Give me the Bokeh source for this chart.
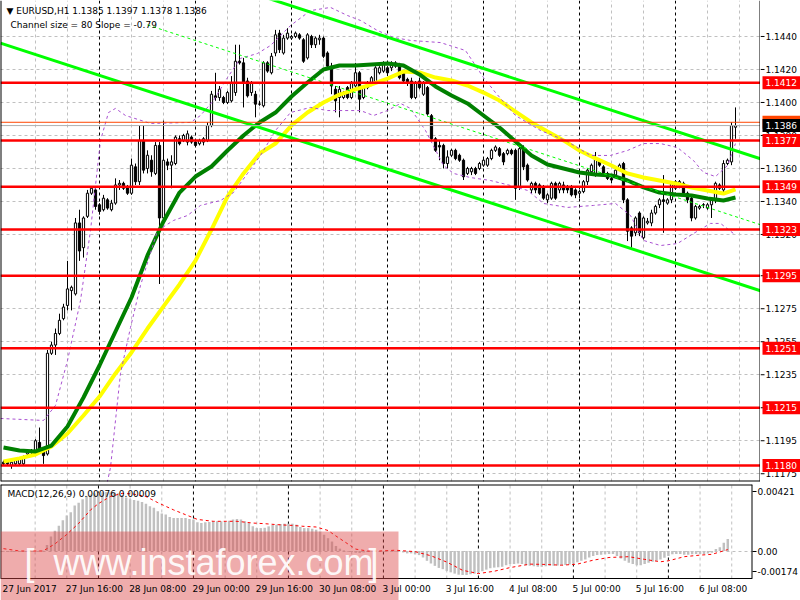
import numpy as np
import pandas as pd
from bokeh.plotting import figure
from bokeh.layouts import column, row
from bokeh.models import (Range1d, FixedTicker, Span, Label, LabelSet, BoxAnnotation,
                          ColumnDataSource)
from bokeh.core.properties import value
from bokeh.embed import file_html
from bokeh.resources import INLINE

# ---------------- data ----------------
symbol = "EURUSD,H1"
first_bar = "2017-06-27 00:00"

open_pips = [
11182, 11182, 11180, 11181, 11181, 11181, 11187, 11189, 11188, 11194,
11189, 11187, 11248, 11253, 11260, 11269, 11277, 11286, 11284, 11327,
11312, 11331, 11345, 11347, 11338, 11335, 11341, 11335, 11339, 11350,
11351, 11349, 11345, 11361, 11352, 11377, 11360, 11365, 11357, 11374,
11330, 11364, 11362, 11363, 11378, 11377, 11376, 11379, 11376, 11375,
11376, 11377, 11386, 11404, 11403, 11403, 11400, 11401, 11406, 11425,
11424, 11413, 11406, 11405, 11399, 11398, 11424, 11418, 11430, 11442,
11430, 11439, 11439, 11440, 11441, 11438, 11427, 11440, 11435, 11438,
11439, 11430, 11422, 11408, 11403, 11403, 11409, 11403, 11410, 11418,
11403, 11409, 11412, 11412, 11418, 11419, 11421, 11421, 11422, 11422,
11418, 11414, 11413, 11403, 11413, 11405, 11409, 11392, 11378, 11374,
11374, 11363, 11368, 11371, 11368, 11365, 11357, 11358, 11360, 11360,
11362, 11362, 11366, 11371, 11372, 11369, 11369, 11371, 11371, 11349,
11372, 11362, 11347, 11351, 11350, 11349, 11341, 11342, 11351, 11347,
11350, 11349, 11349, 11347, 11345, 11346, 11352, 11358, 11356, 11365,
11361, 11357, 11354, 11356, 11360, 11363, 11341, 11324, 11321, 11333,
11318, 11327, 11327, 11333, 11338, 11341, 11339, 11341, 11348, 11349,
11351, 11345, 11342, 11330, 11336, 11338, 11336, 11338, 11341, 11350,
11347, 11363, 11364, 11385]

high_pips = [
11183, 11183, 11183, 11184, 11185, 11186, 11190, 11190, 11196, 11203,
11190, 11250, 11255, 11263, 11272, 11278, 11304, 11289, 11330, 11335,
11331, 11347, 11349, 11348, 11339, 11344, 11342, 11341, 11354, 11353,
11352, 11350, 11366, 11363, 11386, 11386, 11371, 11368, 11376, 11376,
11389, 11366, 11368, 11380, 11380, 11381, 11383, 11380, 11377, 11378,
11379, 11388, 11407, 11418, 11410, 11404, 11407, 11416, 11435, 11435,
11427, 11415, 11413, 11407, 11401, 11425, 11425, 11430, 11444, 11444,
11441, 11445, 11441, 11443, 11442, 11439, 11442, 11441, 11440, 11441,
11440, 11431, 11424, 11410, 11410, 11407, 11410, 11413, 11424, 11419,
11410, 11413, 11416, 11422, 11422, 11425, 11422, 11425, 11425, 11424,
11419, 11415, 11415, 11413, 11415, 11413, 11410, 11393, 11379, 11377,
11375, 11371, 11372, 11372, 11369, 11366, 11361, 11361, 11361, 11364,
11366, 11367, 11372, 11374, 11373, 11370, 11372, 11372, 11372, 11373,
11374, 11363, 11352, 11352, 11351, 11350, 11345, 11352, 11352, 11352,
11352, 11350, 11350, 11348, 11347, 11353, 11360, 11363, 11370, 11366,
11362, 11358, 11355, 11360, 11363, 11364, 11342, 11325, 11331, 11334,
11331, 11330, 11335, 11338, 11342, 11356, 11342, 11352, 11353, 11353,
11352, 11346, 11343, 11338, 11338, 11339, 11339, 11342, 11352, 11351,
11365, 11366, 11388, 11397]

low_pips = [
11180, 11180, 11178, 11180, 11180, 11180, 11186, 11186, 11187, 11188,
11181, 11186, 11247, 11247, 11259, 11268, 11274, 11274, 11283, 11304,
11306, 11330, 11344, 11335, 11332, 11334, 11335, 11334, 11338, 11347,
11347, 11344, 11344, 11350, 11350, 11357, 11357, 11355, 11356, 11290,
11327, 11359, 11348, 11362, 11374, 11376, 11374, 11375, 11373, 11374,
11374, 11376, 11385, 11401, 11401, 11399, 11399, 11400, 11404, 11423,
11397, 11403, 11404, 11391, 11398, 11397, 11418, 11417, 11428, 11430,
11429, 11438, 11438, 11439, 11438, 11424, 11426, 11433, 11433, 11435,
11427, 11421, 11405, 11394, 11391, 11402, 11402, 11402, 11409, 11394,
11402, 11408, 11410, 11411, 11417, 11418, 11416, 11419, 11421, 11414,
11412, 11410, 11402, 11402, 11408, 11404, 11392, 11377, 11370, 11365,
11360, 11360, 11367, 11365, 11364, 11353, 11356, 11356, 11356, 11359,
11361, 11361, 11365, 11370, 11367, 11362, 11368, 11368, 11341, 11347,
11359, 11352, 11345, 11345, 11344, 11341, 11339, 11341, 11341, 11345,
11345, 11345, 11343, 11342, 11342, 11345, 11350, 11356, 11355, 11361,
11356, 11353, 11351, 11355, 11359, 11339, 11316, 11312, 11319, 11319,
11317, 11326, 11325, 11332, 11336, 11321, 11338, 11339, 11347, 11348,
11344, 11339, 11328, 11329, 11335, 11336, 11335, 11330, 11339, 11347,
11345, 11362, 11362, 11378]

close_pips = [
11181, 11181, 11182, 11183, 11184, 11185, 11189, 11188, 11195, 11189,
11186, 11248, 11253, 11260, 11268, 11276, 11287, 11288, 11327, 11310,
11330, 11345, 11348, 11337, 11334, 11342, 11336, 11339, 11350, 11351,
11348, 11345, 11362, 11352, 11377, 11359, 11368, 11358, 11374, 11330,
11365, 11362, 11364, 11379, 11375, 11380, 11381, 11376, 11374, 11377,
11378, 11386, 11405, 11403, 11408, 11400, 11406, 11412, 11425, 11424,
11412, 11404, 11412, 11399, 11399, 11424, 11419, 11428, 11441, 11432,
11439, 11442, 11440, 11442, 11439, 11425, 11441, 11435, 11439, 11439,
11428, 11422, 11410, 11401, 11408, 11406, 11403, 11412, 11418, 11402,
11409, 11412, 11415, 11421, 11421, 11424, 11418, 11424, 11424, 11415,
11413, 11412, 11403, 11412, 11409, 11412, 11393, 11378, 11371, 11373,
11363, 11367, 11371, 11366, 11365, 11355, 11360, 11360, 11357, 11363,
11365, 11366, 11371, 11373, 11368, 11364, 11371, 11369, 11348, 11372,
11361, 11353, 11351, 11347, 11345, 11342, 11344, 11351, 11342, 11351,
11347, 11347, 11344, 11344, 11346, 11352, 11359, 11362, 11366, 11362,
11357, 11354, 11353, 11359, 11362, 11341, 11322, 11319, 11330, 11321,
11330, 11328, 11333, 11337, 11341, 11340, 11341, 11351, 11352, 11352,
11345, 11341, 11330, 11337, 11337, 11338, 11338, 11341, 11351, 11348,
11363, 11365, 11386, 11386]

# moving averages (bar index, price in pips)
ma_idx = list(range(0, 181, 4)) + [183]
ma_fast_pips = [11190.9, 11189.1, 11188.5, 11192.1, 11203.6, 11221.2, 11240.6, 11261.2, 11281.8, 11307.3,
                11327.9, 11345.4, 11355.1, 11361.2, 11370.9, 11380.0, 11387.9, 11393.9, 11403.6, 11412.1,
                11420.0, 11422.4, 11422.4, 11423.0, 11423.6, 11422.4, 11417.0, 11409.7, 11404.2, 11399.4,
                11392.1, 11384.8, 11376.4, 11367.9, 11362.4, 11360.0, 11357.6, 11356.4, 11355.8, 11352.7,
                11348.5, 11345.4, 11344.2, 11343.6, 11341.8, 11340.6, 11342.4]
ma_slow_pips = [11182.4, 11184.3, 11186.7, 11191.5, 11199.4, 11210.3, 11221.8, 11235.8, 11248.5, 11263.0,
                11276.4, 11289.7, 11304.2, 11323.0, 11343.0, 11357.0, 11369.1, 11375.1, 11386.1, 11393.9,
                11400.0, 11404.8, 11407.9, 11410.9, 11414.5, 11418.8, 11418.2, 11415.1, 11413.3, 11410.3,
                11406.0, 11401.2, 11394.5, 11387.9, 11382.4, 11377.0, 11370.9, 11366.1, 11361.8, 11357.0,
                11354.5, 11352.7, 11350.9, 11348.5, 11346.7, 11344.8, 11347.3]

# bands (dotted violet)
band_up_idx = [-0.75, 10, 13, 16, 19.25, 21.75, 24.25, 26.25, 28, 30.5,
               36.75, 46.75, 49.25, 52.5, 56, 59.25, 63.5, 66.75, 71.75, 76.75,
               81.75, 86, 89.25, 93.5, 97.5, 101.75, 109.25, 115.5, 120, 123,
               128, 134.25, 140.5, 146.75, 151.75, 156, 160, 164.25, 168.5, 172.5,
               175, 178, 181, 183]
band_up_pips = [11208.5, 11207.3, 11216.4, 11243.6, 11280.0, 11322.4, 11377.0, 11393.9, 11396.4, 11392.1,
                11387.3, 11387.9, 11392.1, 11401.2, 11415.1, 11426.7, 11429.7, 11434.5, 11446.6, 11455.7,
                11457.6, 11452.7, 11449.7, 11443.6, 11439.4, 11437.6, 11436.3, 11431.5, 11415.1, 11406.0,
                11392.1, 11383.0, 11377.0, 11367.9, 11367.9, 11370.9, 11375.1, 11375.1, 11372.7, 11364.8,
                11357.6, 11355.1, 11361.8, 11375.1]
band_lo_idx = [0, 23, 25.5, 26.75, 29.25, 31.75, 34.25, 38.5, 42.5, 46,
               49.25, 54.25, 57.5, 61, 64.25, 68, 71.75, 76.75, 81, 89.25,
               92.5, 96, 99.25, 101.75, 105.5, 110, 112.5, 116.75, 121.75, 126.75,
               131, 135, 141, 147.5, 153, 156.75, 160, 164.25, 168.5, 172.5,
               176.75, 179.25, 182.5]
band_lo_pips = [11158.8, 11158.8, 11164.9, 11178.8, 11235.8, 11263.6, 11289.1, 11322.4, 11328.5, 11331.5,
                11337.6, 11340.6, 11345.4, 11357.0, 11367.9, 11383.0, 11393.9, 11397.0, 11395.1, 11395.1,
                11392.1, 11395.1, 11399.4, 11396.4, 11383.0, 11361.8, 11357.0, 11354.5, 11352.7, 11349.7,
                11346.7, 11338.8, 11336.4, 11337.6, 11338.8, 11331.5, 11316.4, 11313.3, 11314.5, 11320.6,
                11326.7, 11326.7, 11320.6]

# regression channel
chan_x = [-0.75, 189.25]
chan_upper = [1.15160, 1.13659]
chan_lower = [1.14360, 1.12859]
chan_mid_x = [36, 189.25]
chan_mid = [1.14470, 1.13259]
channel_size = 80
channel_slope = -0.79

levels = [1.1412, 1.1377, 1.1349, 1.1323, 1.1295, 1.1251, 1.1215, 1.1180]
ask_price = 1.1388
price_ticks = [1.1440, 1.1420, 1.1400, 1.1380, 1.1360, 1.1340, 1.1320, 1.1295,
               1.1275, 1.1255, 1.1235, 1.1215, 1.1195, 1.1175]
price_lo, price_hi = 1.11703, 1.14618

macd_hist = [
-0.00005, -0.00006, -0.00006, -0.00005, -0.00005, -0.00004, -0.00003, -0.00002, 0.0, 0.00002,
0.00001, 0.00038, 0.00092, 0.00128, 0.00160, 0.00194, 0.00224, 0.00246, 0.00288, 0.00306,
0.00327, 0.00348, 0.00357, 0.00365, 0.00370, 0.00372, 0.00374, 0.00370, 0.00370, 0.00365,
0.00353, 0.00338, 0.00327, 0.00323, 0.00318, 0.00310, 0.00299, 0.00284, 0.00274, 0.00252,
0.00237, 0.00231, 0.00216, 0.00209, 0.00209, 0.00209, 0.00209, 0.00203, 0.00199, 0.00182,
0.00177, 0.00182, 0.00184, 0.00188, 0.00188, 0.00188, 0.00186, 0.00192, 0.00199, 0.00203,
0.00199, 0.00188, 0.00177, 0.00156, 0.00145, 0.00145, 0.00147, 0.00156, 0.00165, 0.00167,
0.00171, 0.00173, 0.00173, 0.00173, 0.00167, 0.00152, 0.00145, 0.00145, 0.00141, 0.00135,
0.00124, 0.00103, 0.00081, 0.00060, 0.00032, 0.00015, 0.00004, -0.00004, -0.00006, -0.00011,
-0.00013, -0.00009, -0.00006, -0.00004, -0.00002, -0.00002, -0.00004, -0.00002, -0.00002, -0.00004,
-0.00004, -0.00009, -0.00015, -0.00015, -0.00021, -0.00026, -0.00041, -0.00062, -0.00079, -0.00094,
-0.00107, -0.00115, -0.00126, -0.00135, -0.00143, -0.00150, -0.00152, -0.00152, -0.00147, -0.00143,
-0.00135, -0.00128, -0.00118, -0.00109, -0.00105, -0.00103, -0.00100, -0.00090, -0.00083, -0.00083,
-0.00079, -0.00083, -0.00090, -0.00094, -0.00096, -0.00100, -0.00100, -0.00096, -0.00094, -0.00094,
-0.00092, -0.00090, -0.00088, -0.00085, -0.00079, -0.00071, -0.00062, -0.00053, -0.00041, -0.00032,
-0.00026, -0.00024, -0.00021, -0.00019, -0.00019, -0.00032, -0.00047, -0.00062, -0.00075, -0.00083,
-0.00090, -0.00090, -0.00083, -0.00075, -0.00068, -0.00062, -0.00053, -0.00043, -0.00032, -0.00021,
-0.00019, -0.00019, -0.00024, -0.00024, -0.00021, -0.00019, -0.00019, -0.00019, -0.00015, -0.00011,
0.00013, 0.00024, 0.00053, 0.00076]

sig_idx = [0, 4, 10, 13, 16, 19, 22, 24, 27, 30, 33, 36, 39, 43, 46, 49, 53, 56, 59, 63,
           66, 69, 73, 76, 79, 82, 84, 87, 89, 92, 95, 99, 104, 108, 112, 116, 120, 124, 128, 133,
           137, 141, 145, 149, 153, 158, 162, 166, 168, 172, 176, 179, 183]
sig_val = [0.00015, 0.0, 0.0, 0.00045, 0.00105, 0.00175, 0.00260, 0.00300, 0.00345, 0.00365,
           0.00360, 0.00345, 0.00306, 0.00260, 0.00230, 0.00200, 0.00188, 0.00188, 0.00188, 0.00177,
           0.00173, 0.00167, 0.00162, 0.00156, 0.00152, 0.00130, 0.00095, 0.00045, 0.00012, 0.0,
           0.0, 0.00005, -0.00004, -0.00030, -0.00070, -0.00122, -0.00143, -0.00128, -0.00105, -0.00083,
           -0.00085, -0.00090, -0.00083, -0.00058, -0.00041, -0.00036, -0.00053, -0.00068, -0.00062, -0.00036,
           -0.00026, -0.00021, 0.00009]
macd_min, macd_max = -0.00174, 0.00421

# ---------------- derived ----------------
n = len(close_pips)
o = np.array(open_pips) / 1e4
h = np.array(high_pips) / 1e4
l = np.array(low_pips) / 1e4
c = np.array(close_pips) / 1e4
idx = np.arange(n)

times = []
t = pd.Timestamp(first_bar)
while len(times) < n:
    if t.weekday() < 5:
        times.append(t)
    t += pd.Timedelta(hours=1)

day_starts = [i for i, tt in enumerate(times) if tt.hour == 0 and i > 0]
grid_ticks = [i for i in range(8, 190, 8) if i not in day_starts]

lab_idx, lab_txt = [], []
for i in range(0, n, 16):
    tt = times[i]
    s = f"{tt.day} {tt.strftime('%b %Y')}" if i == 0 else f"{tt.day} {tt.strftime('%b %H:%M')}"
    lab_idx.append(i - 0.25)
    lab_txt.append(s)

X0, X1 = -0.75, 189.25
FONT = "DejaVu Sans"
FS = "9px"
GRID = "#C0C0C0"
MAIN_W, AXIS_W = 760, 40
MAIN_FRAME_H, GAP = 481, 3
MACD_H, LABEL_H = 94, 22

# ---------------- main price panel ----------------
p1 = figure(width=MAIN_W, height=MAIN_FRAME_H + GAP, output_backend="svg", toolbar_location=None,
            x_range=Range1d(X0, X1), y_range=Range1d(price_lo, price_hi),
            x_axis_location=None, y_axis_location=None,
            min_border_left=0, min_border_right=0, min_border_top=0, min_border_bottom=GAP)
p1.outline_line_color = None
p1.background_fill_color = "white"
p1.border_fill_color = "white"
p1.ygrid.ticker = FixedTicker(ticks=price_ticks)
p1.ygrid.grid_line_color = GRID
p1.ygrid.grid_line_dash = "3 3"
p1.xgrid.ticker = FixedTicker(ticks=grid_ticks)
p1.xgrid.grid_line_color = GRID
p1.xgrid.grid_line_dash = "3 3"

for d in day_starts:
    p1.add_layout(Span(location=d, dimension="height", line_color="black",
                       line_dash="3 3", line_width=1, level="underlay"))

src = ColumnDataSource(dict(
    x=idx, hi=h, lo=l,
    top=np.maximum(o, c), bottom=np.minimum(o, c),
    fill=np.where(c >= o, "white", "black")))
p1.segment(x0="x", y0="lo", x1="x", y1="hi", line_color="black", line_width=1, source=src)
p1.vbar(x="x", top="top", bottom="bottom", width=0.55, fill_color="fill",
        line_color="black", line_width=1, source=src)

p1.line(ma_idx, np.array(ma_slow_pips) / 1e4, line_color="#FFFF00", line_width=4)
p1.line(ma_idx, np.array(ma_fast_pips) / 1e4, line_color="#008000", line_width=4)

p1.line(band_up_idx, np.array(band_up_pips) / 1e4, line_color="#A850D0", line_width=1, line_dash="3 3")
p1.line(band_lo_idx, np.array(band_lo_pips) / 1e4, line_color="#A850D0", line_width=1, line_dash="3 3")

p1.line(chan_x, chan_upper, line_color="#00FF00", line_width=3)
p1.line(chan_x, chan_lower, line_color="#00FF00", line_width=3)
p1.line(chan_mid_x, chan_mid, line_color="#00FF00", line_width=1, line_dash="3 3")

p1.add_layout(Span(location=c[-1], dimension="width", line_color="#B0B0B0", line_width=1))
p1.add_layout(Span(location=ask_price, dimension="width", line_color="#FF4500", line_width=1))
for v in levels:
    p1.add_layout(Span(location=v, dimension="width", line_color="#FF0000", line_width=2.5))

# frame border (left, right, bottom; no top line as in the terminal)
p1.add_layout(Span(location=X0, dimension="height", line_color="black", line_width=2))
p1.add_layout(Span(location=X1, dimension="height", line_color="black", line_width=2))
p1.add_layout(Span(location=price_lo, dimension="width", line_color="black", line_width=2))

p1.add_layout(Label(x=6, y=MAIN_FRAME_H - 10, x_units="screen", y_units="screen",
                    text=f"\u25BC {symbol}  {o[-1]:.4f} {h[-1]:.4f} {l[-1]:.4f} {c[-1]:.4f}",
                    text_font=FONT, text_font_size=FS, text_color="black",
                    text_baseline="middle"))
p1.add_layout(Label(x=10, y=MAIN_FRAME_H - 24, x_units="screen", y_units="screen",
                    text=f"Channel size = {channel_size} Slope = {channel_slope:.2f}",
                    text_font=FONT, text_font_size=FS, text_color="black",
                    text_baseline="middle"))

# ---------------- price scale strip (ticks, labels, price tags) ----------------
s1 = figure(width=AXIS_W, height=MAIN_FRAME_H + GAP, output_backend="svg", toolbar_location=None,
            x_range=Range1d(0, AXIS_W), y_range=p1.y_range,
            x_axis_location=None, y_axis_location=None,
            min_border_left=0, min_border_right=0, min_border_top=0, min_border_bottom=GAP)
s1.outline_line_color = None
s1.xgrid.visible = False
s1.ygrid.visible = False
s1.background_fill_color = "white"
s1.border_fill_color = "white"

tick_src = ColumnDataSource(dict(y=price_ticks, t=[f"{v:.4f}" for v in price_ticks]))
s1.segment(x0=0, y0="y", x1=4, y1="y", line_color="black", line_width=1, source=tick_src)
s1.text(x=5, y="y", text="t", text_font=value(FONT), text_font_size=value(FS),
        text_color="black", text_baseline="middle", text_align="left", source=tick_src)

tag_y = [ask_price] + levels + [c[-1]]
tag_col = ["#FF4500"] + ["#FF0000"] * len(levels) + ["#000000"]
for yv, col in zip(tag_y, tag_col):
    s1.rect(x=21, y=yv, width=38, height=13, height_units="screen", fill_color=col,
            line_color=None)
    s1.text(x=5, y=yv, text=[f"{yv:.4f}"], text_font=value(FONT), text_font_size=value(FS),
            text_color="white", text_baseline="middle", text_align="left")

# ---------------- MACD panel (frame includes the time-label row) ----------------
span = macd_max - macd_min
y_lo = macd_min - span * LABEL_H / MACD_H
p2 = figure(width=MAIN_W + AXIS_W, height=MACD_H + LABEL_H, output_backend="svg",
            toolbar_location=None, x_range=p1.x_range, y_range=Range1d(y_lo, macd_max),
            x_axis_location=None, y_axis_location="right",
            min_border_left=0, min_border_right=AXIS_W, min_border_top=0, min_border_bottom=0)
p2.outline_line_color = None
p2.background_fill_color = "white"
p2.border_fill_color = "white"

t_top = round(macd_max - 0.07 * span, 6)
t_bot = round(macd_min + 0.07 * span, 6)
p2.yaxis.ticker = FixedTicker(ticks=[t_bot, 0.0, t_top])
p2.yaxis.major_label_overrides = {t_top: f"{macd_max:.5f}", 0.0: "0.00", t_bot: f"{macd_min:.5f}"}
p2.yaxis.major_label_text_font = FONT
p2.yaxis.major_label_text_font_size = FS
p2.yaxis.major_label_text_color = "black"
p2.yaxis.axis_line_color = None
p2.yaxis.major_tick_out = 4
p2.yaxis.major_tick_in = 0
p2.yaxis.minor_tick_line_color = None
p2.yaxis.major_label_standoff = 1
p2.ygrid.ticker = FixedTicker(ticks=[0.0])
p2.ygrid.grid_line_color = GRID
p2.ygrid.grid_line_dash = "3 3"
p2.xgrid.visible = False

p2.segment(x0=grid_ticks, y0=macd_min, x1=grid_ticks, y1=macd_max,
           line_color=GRID, line_dash="3 3", line_width=1)
p2.segment(x0=day_starts, y0=macd_min, x1=day_starts, y1=macd_max,
           line_color="black", line_dash="3 3", line_width=1)

p2.vbar(x=idx, top=macd_hist, bottom=0, width=0.62, fill_color="#C0C0C0", line_color=None)
p2.line(sig_idx, sig_val, line_color="#FF0000", line_width=1, line_dash="3 3")

# MACD frame border
p2.segment(x0=[X0, X1, X0], y0=[macd_min, macd_min, macd_max],
           x1=[X0, X1, X1], y1=[macd_max, macd_max, macd_max],
           line_color="black", line_width=2)
p2.segment(x0=X0, y0=macd_min, x1=X1, y1=macd_min, line_color="black", line_width=1)

p2.add_layout(Label(x=7, y=MACD_H + LABEL_H - 9, x_units="screen", y_units="screen",
                    text=f"MACD(12,26,9) {macd_hist[-1]:.5f} {sig_val[-1]:.5f}",
                    text_font=FONT, text_font_size=FS, text_color="black",
                    text_baseline="middle"))

# watermark
p2.add_layout(BoxAnnotation(left=0, right=398, bottom=0, top=LABEL_H + 47,
                            left_units="screen", right_units="screen",
                            top_units="screen", bottom_units="screen",
                            fill_color="#DC4646", fill_alpha=0.45, line_color=None,
                            level="overlay"))
WM_FONT = "Liberation Sans"
for txt, xx in (("[", 24), ("www.instaforex.com", 53), ("]", 368)):
    p2.add_layout(Label(x=xx, y=38, x_units="screen", y_units="screen", text=txt,
                        text_font=WM_FONT, text_font_size="36px", text_color="white",
                        text_alpha=0.92, text_baseline="middle", level="overlay"))

# time labels (drawn on top of the watermark)
lab_y = macd_min - span * 10.5 / MACD_H
lab_src = ColumnDataSource(dict(x=lab_idx, y=[lab_y] * len(lab_idx), t=lab_txt))
p2.add_layout(LabelSet(x="x", y="y", text="t", source=lab_src, text_font=value(FONT),
                       text_font_size=value(FS), text_color="black", text_baseline="middle",
                       text_align="left", level="overlay"))

layout = column(row(p1, s1, spacing=0), p2, spacing=0)
open("out.html", "w").write(file_html(layout, INLINE))
